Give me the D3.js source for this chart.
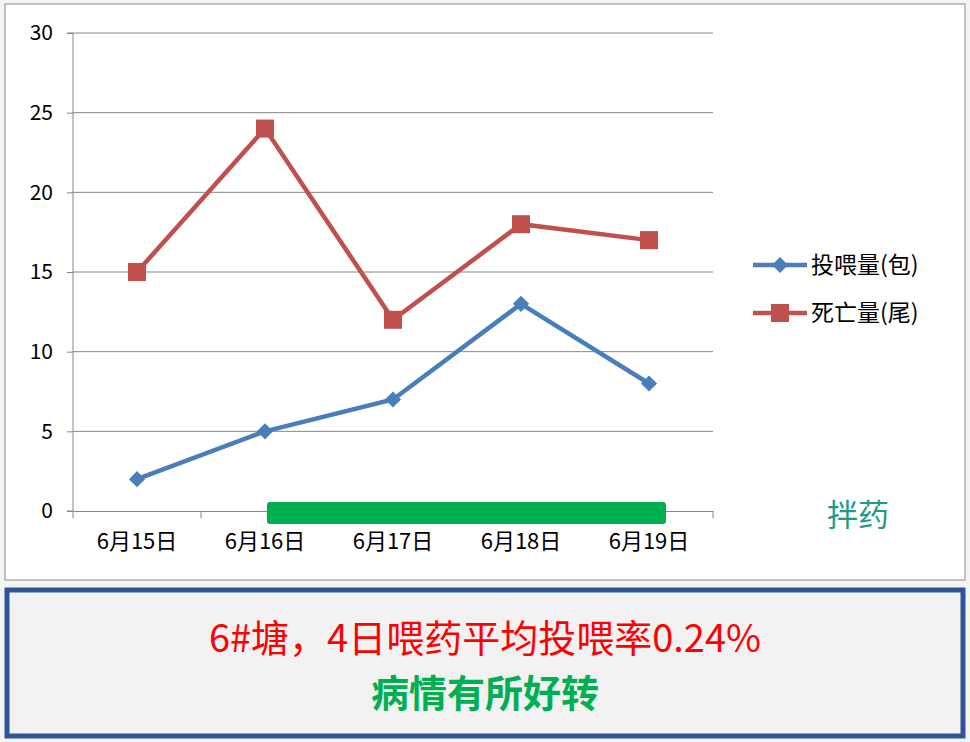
<!DOCTYPE html>
<html><head><meta charset="utf-8">
<script src="https://cdn.jsdelivr.net/npm/d3@7"></script>
<style>body{margin:0;background:#fff;font-family:"Noto Sans CJK SC",sans-serif}</style>
</head><body><svg id="c" width="970" height="742"></svg>
<script>
var categories = ['6月15日', '6月16日', '6月17日', '6月18日', '6月19日'];
var feed = [2, 5, 7, 13, 8];
var deaths = [15, 24, 12, 18, 17];
var yTicks = [0, 5, 10, 15, 20, 25, 30];
var medStart = 1, medEnd = 4; // 拌药 period, category indices

var svg = d3.select('#c');
var font = '"Noto Sans CJK SC", sans-serif';

// sheet-like background
svg.append('rect').attr('width', 970).attr('height', 742).attr('fill', '#f4f4f4');
svg.append('rect').attr('x', 5).attr('y', 4).attr('width', 960).attr('height', 576)
    .attr('fill', '#fff').attr('stroke', '#888').attr('stroke-width', 1);

var x = d3.scaleBand().domain(categories).range([73, 713]);
var y = d3.scaleLinear().domain([0, 30]).range([511, 33]);
var cx = function(i) { return x(categories[i]) + x.bandwidth() / 2; };

var g = svg.append('g');
g.selectAll('line.grid').data(yTicks.slice(1)).enter().append('line')
    .attr('x1', 73).attr('x2', 713).attr('y1', y).attr('y2', y)
    .attr('stroke', '#868686').attr('stroke-width', 1);

g.append('g').attr('transform', 'translate(73,0)')
    .call(d3.axisLeft(y).tickValues(yTicks).tickSize(6).tickPadding(14))
    .call(function(a) {
        a.select('.domain').attr('stroke', '#868686').attr('d', 'M-6,33H0V511H-6');
        a.selectAll('line').attr('stroke', '#868686');
        a.selectAll('text').attr('font-size', 21).attr('font-family', font).attr('fill', '#000');
    });

g.append('g').attr('transform', 'translate(0,511)')
    .call(d3.axisBottom(x).tickSize(0).tickPadding(22))
    .call(function(a) {
        a.select('.domain').attr('stroke', '#868686');
        a.selectAll('text').attr('font-size', 22).attr('font-family', font).attr('fill', '#000');
    });
g.selectAll('line.xt').data(d3.range(categories.length + 1)).enter().append('line')
    .attr('x1', function(i) { return 73 + i * x.bandwidth(); })
    .attr('x2', function(i) { return 73 + i * x.bandwidth(); })
    .attr('y1', 511).attr('y2', 518).attr('stroke', '#868686');

// medication bar
g.append('rect').attr('x', cx(medStart) + 2).attr('y', 502)
    .attr('width', cx(medEnd) + 17 - cx(medStart) - 2).attr('height', 22)
    .attr('rx', 3).attr('fill', '#00b050');
svg.append('text').attr('x', 858).attr('y', 526).attr('text-anchor', 'middle')
    .attr('font-size', 31).attr('font-family', font).attr('fill', '#1f9a8a').text('拌药');

var line = d3.line().x(function(d, i) { return cx(i); }).y(function(d) { return y(d); });
g.append('path').datum(deaths).attr('d', line).attr('fill', 'none')
    .attr('stroke', '#c0504d').attr('stroke-width', 4.5);
g.selectAll('rect.r').data(deaths).enter().append('rect')
    .attr('x', function(d, i) { return cx(i) - 9; }).attr('y', function(d) { return y(d) - 9; })
    .attr('width', 18).attr('height', 18).attr('fill', '#c0504d');
g.append('path').datum(feed).attr('d', line).attr('fill', 'none')
    .attr('stroke', '#4a7ebb').attr('stroke-width', 4.5);
var diamond = d3.symbol().type(d3.symbolSquare).size(130);
g.selectAll('path.d').data(feed).enter().append('path')
    .attr('transform', function(d, i) { return 'translate(' + cx(i) + ',' + y(d) + ') rotate(45)'; })
    .attr('d', diamond).attr('fill', '#4a7ebb');

// legend
var leg = [{n: '投喂量(包)', c: '#4a7ebb', s: 'd', yy: 265}, {n: '死亡量(尾)', c: '#c0504d', s: 'r', yy: 313}];
leg.forEach(function(l) {
    svg.append('line').attr('x1', 753).attr('x2', 807).attr('y1', l.yy).attr('y2', l.yy)
        .attr('stroke', l.c).attr('stroke-width', 4.5);
    if (l.s === 'd') svg.append('path').attr('transform', 'translate(780,' + l.yy + ') rotate(45)')
        .attr('d', diamond).attr('fill', l.c);
    else svg.append('rect').attr('x', 771).attr('y', l.yy - 9).attr('width', 18).attr('height', 18).attr('fill', l.c);
    svg.append('text').attr('x', 811).attr('y', l.yy + 8).attr('font-size', 23)
        .attr('font-family', font).attr('fill', '#000').text(l.n);
});

// note box
svg.append('rect').attr('x', 7).attr('y', 590).attr('width', 956).attr('height', 146)
    .attr('fill', '#f2f2f2').attr('stroke', '#2f5597').attr('stroke-width', 5);
svg.append('text').attr('x', 485).attr('y', 652).attr('text-anchor', 'middle')
    .attr('font-size', 38).attr('font-family', font).attr('fill', '#ff0000').text('6#塘，4日喂药平均投喂率0.24%');
svg.append('text').attr('x', 485).attr('y', 707).attr('text-anchor', 'middle')
    .attr('font-size', 38).attr('font-weight', 'bold').attr('font-family', font).attr('fill', '#00b050').text('病情有所好转');
</script></body></html>
